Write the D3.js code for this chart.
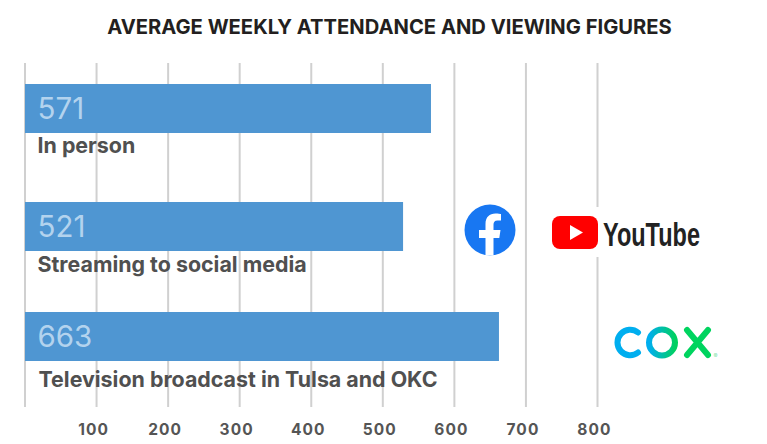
<!DOCTYPE html>
<html>
<head>
<meta charset="utf-8">
<script src="https://cdn.jsdelivr.net/npm/d3@7"></script>
<style>
  html, body { margin: 0; background: #fff; }
  svg { display: block; font-family: "Inter", "Noto Sans", sans-serif; }
</style>
</head>
<body>
<div id="chart"></div>
<script>
// Data
const categories = ["In person", "Streaming to social media", "Television broadcast in Tulsa and OKC"];
const printedValues = [571, 521, 663];
// bars in the original don't quite follow their printed figures, so lengths are read off the axis
const barLengths = [568, 529, 663];
const tickValues = [0, 100, 200, 300, 400, 500, 600, 700, 800];

const height = 444,
    width = 767,
    barHeight = 49;

const svg = d3.select("#chart")
  .append("svg")
  .attr("width", width)
  .attr("height", height)
  .attr("viewBox", [0, 0, width, height]);

const x = d3.scaleLinear()
  .domain([0, 800])
  .range([24.5, 597]);

// rows aren't evenly spaced in the original
const y = d3.scaleOrdinal()
  .domain(categories)
  .range([84, 202, 312]);

// neither are the captions under the bars
const captionY = d3.scaleOrdinal()
  .domain(categories)
  .range([69, 70, 74.5]);

svg.append("text")
  .attr("x", 389.5)
  .attr("y", 34)
  .attr("text-anchor", "middle")
  .attr("font-size", 20.2)
  .attr("font-weight", 700)
  .attr("fill", "#231f20")
  .text("AVERAGE WEEKLY ATTENDANCE AND VIEWING FIGURES");

// Axis with gridlines
const axis = svg.append("g")
  .attr("transform", "translate(0,407)")
  .call(d3.axisBottom(x)
    .tickValues(tickValues)
    .tickSize(344)
    .tickFormat(d => d === 0 ? "" : d));

axis.select(".domain").remove();
axis.selectAll(".tick line")
  .attr("y2", -344)
  .attr("stroke", "#d0d0d0")
  .attr("stroke-width", 2);
axis.selectAll(".tick text")
  .attr("y", 0)
  .attr("dy", 27.5)
  .attr("dx", -3)
  .attr("font-family", "Inter, sans-serif")
  .attr("font-size", 15.5)
  .attr("font-weight", 700)
  .attr("letter-spacing", 1.1)
  .attr("fill", "#555");

// Bars
const rows = svg.append("g")
  .selectAll("g")
  .data(categories)
  .join("g")
  .attr("transform", d => `translate(0,${y(d)})`);

rows.append("rect")
  .attr("x", x(0) + 0.5)
  .attr("y", 0)
  .attr("width", (d, i) => x(barLengths[i]) - x(0) - 0.5)
  .attr("height", barHeight)
  .attr("fill", "#4f96d2");

rows.append("text")
  .attr("x", 37.5)
  .attr("y", 35)
  .attr("font-size", 29.5)
  .attr("font-weight", 400)
  .attr("fill", "#b3d3ee")
  .text((d, i) => printedValues[i]);

rows.append("text")
  .attr("x", (d, i) => i === 2 ? 38.5 : 37.5)
  .attr("y", d => captionY(d))
  .attr("font-size", 21.4)
  .attr("font-weight", 700)
  .attr("fill", "#505050")
  .text(d => d);

// Facebook logo
const fb = svg.append("g").attr("transform", "translate(490,230)");
fb.append("circle").attr("r", 25.5).attr("fill", "#1877f2");
fb.append("path")
  .attr("d", "M-4.5,25.5 V8 H-11 V0 H-4.5 V-6 C-4.5,-13 -0.5,-16.5 5.5,-16.5 C8,-16.5 10.5,-16 11,-16 V-9.5 H7.5 C4.5,-9.5 3.5,-7.5 3.5,-5.5 V0 H10.5 L9.3,8 H3.5 V25.5 Z")
  .attr("fill", "#fff");

// YouTube logo, white box hides the gridline behind it
const yt = svg.append("g");
yt.append("rect")
  .attr("x", 546).attr("y", 207)
  .attr("width", 160).attr("height", 50)
  .attr("fill", "#fff");
yt.append("rect")
  .attr("x", 552).attr("y", 216)
  .attr("width", 46).attr("height", 33)
  .attr("rx", 8)
  .attr("fill", "#ff0000");
yt.append("path")
  .attr("d", "M570,225 L583,232.5 L570,240 Z")
  .attr("fill", "#fff");
yt.append("text")
  .attr("x", 603)
  .attr("y", 246)
  .attr("font-family", "'Liberation Sans Narrow', 'Liberation Sans', sans-serif")
  .attr("font-size", 33)
  .attr("font-weight", 700)
  .attr("fill", "#222")
  .attr("textLength", 97)
  .attr("lengthAdjust", "spacingAndGlyphs")
  .text("YouTube");

// Cox logo
const defs = svg.append("defs");
const grad = defs.append("linearGradient").attr("id", "coxO");
grad.append("stop").attr("offset", "0%").attr("stop-color", "#00aeef");
grad.append("stop").attr("offset", "100%").attr("stop-color", "#00d060");

const cox = svg.append("g")
  .attr("fill", "none")
  .attr("stroke-width", 6)
  .attr("stroke-linecap", "round");
cox.append("path")
  .attr("d", "M638,332.5 A12.7,12.7 0 1 0 638,352.5")
  .attr("stroke", "#00aeef");
cox.append("circle")
  .attr("cx", 662)
  .attr("cy", 342.5)
  .attr("r", 13)
  .attr("stroke", "url(#coxO)");
cox.append("path")
  .attr("d", "M687,330 L708,355 M708,330 L687,355")
  .attr("stroke", "#00d45f");
svg.append("text")
  .attr("x", 713.5)
  .attr("y", 358)
  .attr("font-size", 6)
  .attr("fill", "#7fe0a8")
  .text("®");
</script>
</body>
</html>
